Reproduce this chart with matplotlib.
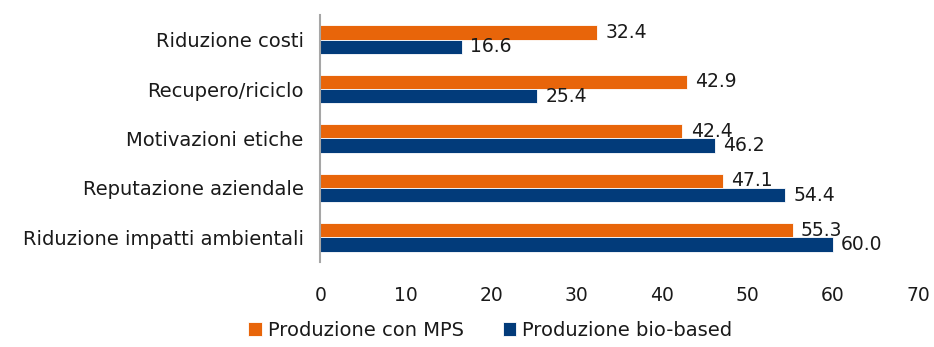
import numpy as np
import matplotlib.pyplot as plt

plt.rcParams['font.family'] = ['DejaVu Sans']

categories = ["Riduzione costi", "Recupero/riciclo", "Motivazioni etiche",
              "Reputazione aziendale", "Riduzione impatti ambientali"]
mps = [32.4, 42.9, 42.4, 47.1, 55.3]
bio = [16.6, 25.4, 46.2, 54.4, 60.0]
ticks = [0, 10, 20, 30, 40, 50, 60, 70]

orange = '#E8650A'
blue = '#023B7A'
txt = '#1A1A1A'

fig = plt.figure(figsize=(9.34, 3.47), dpi=100)
ax = fig.add_axes([0.343, 0.245, 0.64, 0.712])

y = np.arange(len(categories))
h = 0.29
b1 = ax.barh(y - h / 2, mps, height=h, color=orange, edgecolor='white', linewidth=0.6, label='Produzione con MPS')
b2 = ax.barh(y + h / 2, bio, height=h, color=blue, edgecolor='white', linewidth=0.6, label='Produzione bio-based')

ax.bar_label(b1, labels=[f"{v:.1f}" for v in mps], padding=6, fontsize=13.5, color=txt)
ax.bar_label(b2, labels=[f"{v:.1f}" for v in bio], padding=6, fontsize=13.5, color=txt)

ax.set_ylim(len(categories) - 0.5, -0.5)
ax.set_xlim(0, 70)
ax.set_xticks(ticks)
ax.set_yticks(y)
ax.set_yticklabels(categories, fontsize=14, color=txt)
ax.tick_params(axis='x', labelsize=13.5, labelcolor=txt, length=0, pad=17)
ax.tick_params(axis='y', length=0, pad=12)
for s in ['top', 'right', 'bottom']:
    ax.spines[s].set_visible(False)
ax.spines['left'].set_color('#A6A6A6')
ax.spines['left'].set_linewidth(1.5)

leg = fig.legend(handles=[b1, b2], loc='lower center', bbox_to_anchor=(0.525, -0.03), ncol=2,
                 frameon=False, fontsize=14, handlelength=0.7, handleheight=0.7,
                 handletextpad=0.3, columnspacing=2.0)
for t in leg.get_texts():
    t.set_color(txt)

fig.savefig('out.png', dpi=100)
